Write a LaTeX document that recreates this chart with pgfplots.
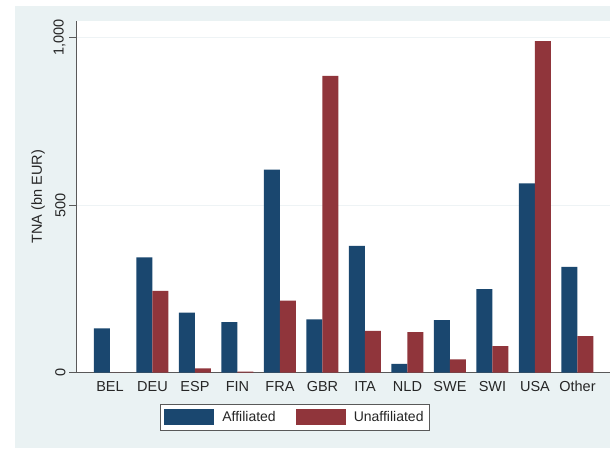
\documentclass[border=0pt]{standalone}
\usepackage{pgfplots}
\pgfplotsset{compat=1.18}
\usepackage{fontspec}
\setmainfont{Liberation Sans}
\definecolor{stnavy}{HTML}{1A476F}
\definecolor{stmaroon}{HTML}{90353B}
\definecolor{stbg}{HTML}{EAF2F3}
\definecolor{stgrid}{HTML}{EEF3F5}
\begin{document}
\begin{tikzpicture}[x=1pt,y=1pt]
\useasboundingbox (0,0) rectangle (610,448);
\fill[stbg] (15,0) rectangle (610,442);
\begin{axis}[
  at={(76pt,75.3pt)}, anchor=south west,
  scale only axis, width=534pt, height=351.7pt,
  axis background/.style={fill=white},
  ybar=0pt, bar width=16pt,
  xmin=-0.8, xmax=11.765, ymin=0, ymax=1049,
  axis x line*=bottom, axis y line*=left,
  axis line style={draw=black!65, line width=0.8pt},
  xtick={0,...,11},
  xticklabels={BEL,DEU,ESP,FIN,FRA,GBR,ITA,NLD,SWE,SWI,USA,Other},
  xtick style={draw=none},
  xticklabel style={yshift=2pt},
  ytick={0,500,1000}, yticklabels={0,500,{1,000}},
  yticklabel style={rotate=90, anchor=south},
  tick align=outside, major tick length=7pt,
  ytick style={draw=black!65, line width=0.8pt},
  ymajorgrids, grid style={draw=stgrid, line width=0.8pt},
  tick label style={font=\fontsize{14.5}{16}\selectfont, text=black!85},
  ylabel={TNA (bn EUR)},
  ylabel style={at={(axis description cs:-0.071,0.5)}, anchor=center, font=\fontsize{14.5}{16}\selectfont, text=black!85},
  legend style={at={(axis description cs:0.41,-0.127)}, anchor=center,
    legend columns=2, draw=black!65, fill=white, line width=0.6pt,
    inner xsep=4pt, inner ysep=5pt,
    font=\fontsize{14}{16}\selectfont, text=black!85,
    /tikz/every odd column/.append style={column sep=6pt},
    /tikz/every even column/.append style={column sep=18pt}},
  every axis plot post/.append style={draw=none,
    legend image code/.code={\fill[##1] (0pt,-8pt) rectangle (50pt,8pt);}},
]
\addplot[fill=stnavy] coordinates {
  (0,132) (1,344) (2,179) (3,151) (4,606) (5,159)
  (6,378) (7,26) (8,157) (9,249) (10,565) (11,316)
};
\addlegendentry{Affiliated}
\addplot[fill=stmaroon] coordinates {
  (0,0) (1,244) (2,13) (3,3) (4,215) (5,885)
  (6,125) (7,121) (8,40) (9,79) (10,989) (11,109)
};
\addlegendentry{Unaffiliated}
\end{axis}
\end{tikzpicture}
\end{document}
